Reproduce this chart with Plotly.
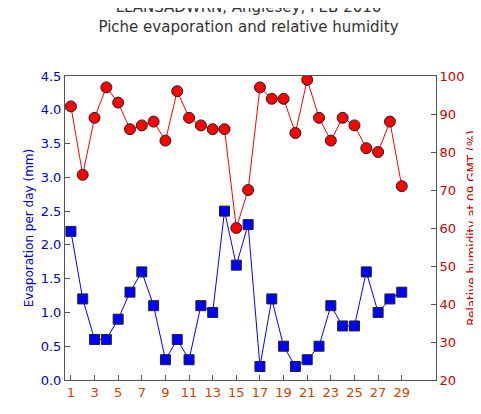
import plotly.graph_objects as go

days = list(range(1, 30))
evap = [2.2,1.2,0.6,0.6,0.9,1.3,1.6,1.1,0.3,0.6,0.3,1.1,1.0,2.5,1.7,2.3,0.2,1.2,0.5,0.2,0.3,0.5,1.1,0.8,0.8,1.6,1.0,1.2,1.3]
rh = [92,74,89,97,93,86,87,88,83,96,89,87,86,86,60,70,97,94,94,85,99,89,83,89,87,81,80,88,71]

fig = go.Figure()
fig.add_trace(go.Scatter(x=days, y=evap, mode="lines+markers", line=dict(color="#0000ff", width=1),
    marker=dict(symbol="square", size=10, color="#0000ff", line=dict(color="#222", width=1)), yaxis="y"))
fig.add_trace(go.Scatter(x=days, y=rh, mode="lines+markers", line=dict(color="#ff0000", width=1),
    marker=dict(symbol="circle", size=11, color="#ff0000", line=dict(color="#222", width=1)), yaxis="y2"))
fig.update_layout(
    width=481, height=414, showlegend=False, plot_bgcolor="white", paper_bgcolor="white",
    margin=dict(l=57, r=49, t=68, b=42),
    font=dict(family="DejaVu Sans", size=13),
    title=dict(text="LLANSADWRN, Anglesey, FEB 2016<br>Piche evaporation and relative humidity",
               x=0.5, xanchor="center", yref="container", y=0.99, yanchor="top",
               font=dict(size=15, color="#333")),
    xaxis=dict(range=[0.5, 31.9], tickvals=list(range(1, 30, 2)), showgrid=False, zeroline=False,
               showline=True, linecolor="#555", mirror=True, ticks="inside", tickcolor="#555",
               tickfont=dict(color="#cc4400", size=13)),
    yaxis=dict(range=[0, 4.5], dtick=0.5, tickformat=".1f", showgrid=False, zeroline=False,
               showline=True, linecolor="#555", ticks="inside", tickcolor="#555",
               tickfont=dict(color="#0000cc", size=13),
               title=dict(text="Evaporation per day (mm)", font=dict(color="#0000cc", size=12), standoff=4)),
    yaxis2=dict(range=[20, 100], dtick=10, overlaying="y", side="right", showgrid=False, zeroline=False,
                showline=True, linecolor="#555", ticks="inside", tickcolor="#555",
                tickfont=dict(color="#cc0000", size=13),
                title=dict(text="Relative humidity at 09 GMT (%)", font=dict(color="#cc0000", size=12), standoff=4)),
)
fig.write_html("out.html")
